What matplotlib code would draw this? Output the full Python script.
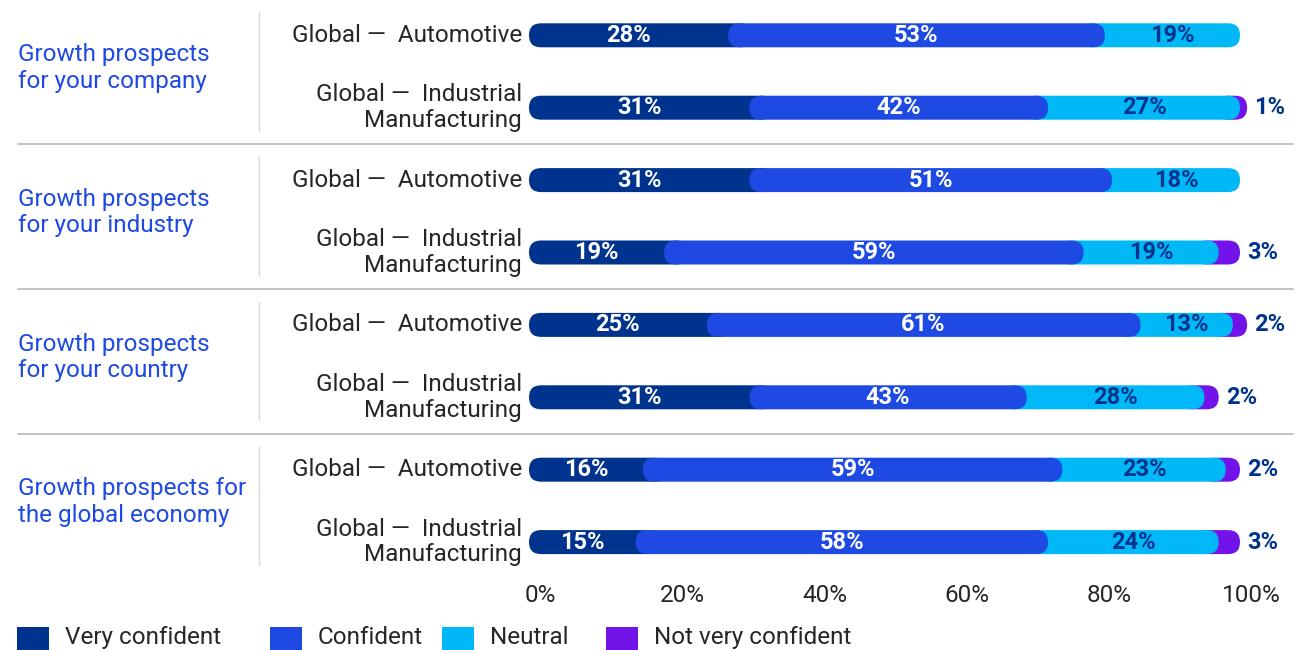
import matplotlib
matplotlib.use("Agg")
import matplotlib.pyplot as plt
from matplotlib.patches import FancyBboxPatch, Rectangle
from matplotlib.transforms import ScaledTranslation, blended_transform_factory

# ---------------- data ----------------
group_labels = ["Growth prospects\nfor your company",
                "Growth prospects\nfor your industry",
                "Growth prospects\nfor your country",
                "Growth prospects for\nthe global economy"]
row_labels = ["Global —  Automotive", "Global —  Industrial\nManufacturing"] * 4
series_names = ["Very confident", "Confident", "Neutral", "Not very confident"]

very_confident = [28, 31, 31, 19, 25, 31, 16, 15]
confident      = [53, 42, 51, 59, 61, 39, 59, 58]
neutral        = [19, 27, 18, 19, 13, 25, 23, 24]
not_very       = [0, 1, 0, 3, 2, 2, 2, 3]

very_labels    = ["28%", "31%", "31%", "19%", "25%", "31%", "16%", "15%"]
conf_labels    = ["53%", "42%", "51%", "59%", "61%", "43%", "59%", "58%"]
neutral_labels = ["19%", "27%", "18%", "19%", "13%", "28%", "23%", "24%"]
notvery_labels = ["", "1%", "", "3%", "2%", "2%", "2%", "3%"]

xticks = [0, 20, 40, 60, 80, 100]

# ---------------- style ----------------
colors = ["#00338D", "#1E49E2", "#00B8F5", "#7213EA"]
zorders = [2, 4, 3, 1]
text_colors = ["white", "white", "#00338D", "#00338D"]
navy = "#00338D"
group_color = "#1E49E2"
text_dark = "#262626"
FONT = ["Roboto", "DejaVu Sans"]
plt.rcParams["font.family"] = FONT

W, H, DPI = 1305, 650, 100
fig = plt.figure(figsize=(W / DPI, H / DPI), dpi=DPI)

ax_left_px, ax_w_px = 529, 711
ax_top_px, ax_h_px = 0, 578
ax = fig.add_axes([ax_left_px / W, (H - ax_top_px - ax_h_px) / H, ax_w_px / W, ax_h_px / H])

n = len(very_confident)
pitch_px = 72.4
y_top = -35.3 / pitch_px
y_bot = y_top + ax_h_px / pitch_px
ax.set_xlim(0, 100)
ax.set_ylim(y_bot, y_top)

xu_per_px = 100 / ax_w_px
yu_per_px = (y_bot - y_top) / ax_h_px
bar_h = 24 * yu_per_px
r = 12 * xu_per_px
aspect = yu_per_px / xu_per_px

series = [very_confident, confident, neutral, not_very]
labels = [very_labels, conf_labels, neutral_labels, notvery_labels]

for i in range(n):
    vals = [s[i] for s in series]
    starts = []
    acc = 0
    for v in vals:
        starts.append(acc)
        acc += v
    nz = [k for k in range(4) if vals[k] > 0]
    for idx, k in enumerate(nz):
        s0 = starts[k]
        s1 = starts[k] + vals[k]
        x0, x1 = s0, s1
        if idx > 0 and zorders[nz[idx - 1]] > zorders[k]:
            x0 = s0 - 2 * r
        if idx < len(nz) - 1 and zorders[nz[idx + 1]] > zorders[k]:
            x1 = s1 + 2 * r
        if x1 - x0 < 2 * r:
            x0 = x1 - 2 * r
        p = FancyBboxPatch((x0, i - bar_h / 2), x1 - x0, bar_h,
                           boxstyle=f"round,pad=0,rounding_size={r}",
                           mutation_aspect=aspect, fc=colors[k], ec="none",
                           zorder=zorders[k], clip_on=False)
        ax.add_patch(p)
        lab = labels[k][i]
        if not lab:
            continue
        if k == 3:
            ax.text(s1 + 7 * xu_per_px, i, lab, ha="left", va="center",
                    color=navy, fontsize=17, fontweight="bold", zorder=6,
                    clip_on=False)
        else:
            ax.text((s0 + s1) / 2, i, lab, ha="center", va="center",
                    color=text_colors[k], fontsize=17, fontweight="bold", zorder=6)

# row labels
row_tr = ax.get_yaxis_transform() + ScaledTranslation(-7 / DPI, 0, fig.dpi_scale_trans)
for i, lab in enumerate(row_labels):
    ax.text(0, i, lab, transform=row_tr, ha="right", va="center",
            multialignment="right", fontsize=17.5, color=text_dark,
            linespacing=1.15, clip_on=False)

# group labels, separators
fig_y = blended_transform_factory(fig.transFigure, ax.transData)
n_groups = len(group_labels)
rows_per_group = n // n_groups
for g, lab in enumerate(group_labels):
    c = g * rows_per_group + (rows_per_group - 1) / 2
    ax.text(18 / W, c - 0.05, lab, transform=fig_y, ha="left", va="center",
            fontsize=17.5, color=group_color, linespacing=1.2, clip_on=False)
    ax.plot([259 / W, 259 / W], [c - 0.82, c + 0.82], transform=fig_y,
            color="#d9d9d9", lw=1, clip_on=False)
    if g < n_groups - 1:
        yb = (g + 1) * rows_per_group - 0.5
        ax.plot([18 / W, 1293 / W], [yb, yb], transform=fig_y,
                color="#b3b3b3", lw=1.1, clip_on=False)

# axes styling
for sp in ax.spines.values():
    sp.set_visible(False)
ax.set_yticks([])
ax.set_xticks(xticks)
ax.set_xticklabels([f"{t}%" for t in xticks], fontsize=17.5, color=text_dark)
ax.tick_params(axis="x", length=0, pad=4)
for tl in ax.get_xticklabels():
    tl.set_transform(tl.get_transform() + ScaledTranslation(11 / DPI, 0, fig.dpi_scale_trans))

# legend (manual layout)
legend_x_px = [17, 270, 442, 606]
sq_w, sq_h = 32, 23
leg_bottom_px = 650
for k, name in enumerate(series_names):
    x = legend_x_px[k]
    fig.patches.append(Rectangle((x / W, (H - leg_bottom_px) / H), sq_w / W, sq_h / H,
                                 transform=fig.transFigure, fc=colors[k], ec="none"))
    fig.text((x + sq_w + 16) / W, (H - leg_bottom_px + sq_h / 2 + 1) / H, name,
             ha="left", va="center", fontsize=17.5, color=text_dark)

fig.savefig("out.png", dpi=DPI)
